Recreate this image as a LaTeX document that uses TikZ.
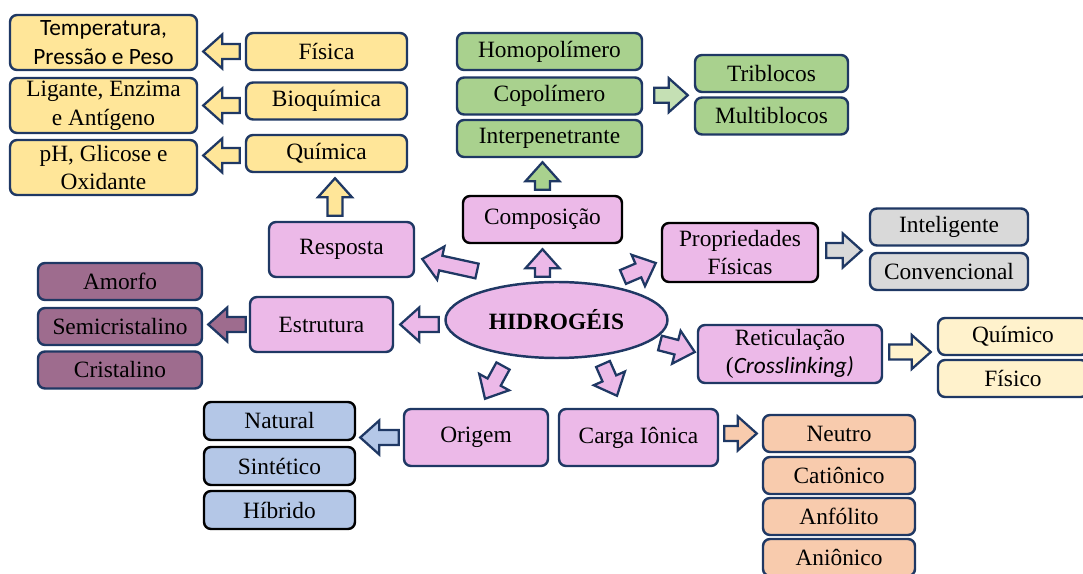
\documentclass[tikz,border=0pt]{standalone}
\usepackage{fontspec}
\setmainfont{Liberation Serif}
\newfontfamily\calibri{Carlito}
\usetikzlibrary{calc,shapes.geometric}
\definecolor{navy}{HTML}{1F3864}
\definecolor{gold}{HTML}{FFE699}
\definecolor{lilac}{HTML}{ECB9E8}
\definecolor{leaf}{HTML}{A9D18E}
\definecolor{leaflight}{HTML}{C5E0B4}
\definecolor{silver}{HTML}{D9D9D9}
\definecolor{cream}{HTML}{FFF2CC}
\definecolor{plum}{HTML}{9E6C8E}
\definecolor{sky}{HTML}{B4C7E7}
\definecolor{peach}{HTML}{F8CBAD}

% fat arrow from #2 (tail) to #3 (tip)
\newcommand{\bigarrow}[3][]{%
  \coordinate (ta) at #2;
  \coordinate (tb) at #3;
  \coordinate (tc) at ($(tb)!0.38cm!(ta)$);
  \filldraw[line width=1.3pt, draw=navy, #1] ($(ta)!0.15cm!90:(tb)$) -- ($(tc)!0.15cm!90:(tb)$) -- ($(tc)!0.34cm!90:(tb)$) -- (tb) -- ($(tc)!0.34cm!-90:(tb)$) -- ($(tc)!0.15cm!-90:(tb)$) -- ($(ta)!0.15cm!-90:(tb)$) -- cycle;
}

\begin{document}
\begin{tikzpicture}[x=0.02cm, y=-0.02cm,
    cbox/.style={draw=navy, line width=1.4pt, rounded corners=4pt, align=center, inner sep=0pt, font=\fontsize{13.3}{16.3}\selectfont},
    wh/.style 2 args={minimum width=#1*0.02cm, minimum height=#2*0.02cm}]
    \useasboundingbox (0,0) rectangle (1083,574);

    % resposta
    \node[cbox, fill=gold, wh={187}{55}, font=\calibri\fontsize{13.3}{16.3}\selectfont] (temp) at (103.5,42.5) {Temperatura,\\Pressão e Peso};
    \node[cbox, fill=gold, wh={187}{55}] (lig) at (103.5,105.5) {Ligante, Enzima\\e Antígeno};
    \node[cbox, fill=gold, wh={187}{55}] (ph) at (103.5,167.5) {pH, Glicose e\\Oxidante};
    \foreach \n/\t/\y in {fis/Física/51.5, bio/Bioquímica/101, qui/Química/153.5}{
        \node[cbox, fill=gold, wh={161}{37}] (\n) at (326.5,\y) {\t};
    }

    % composicao
    \foreach \n/\t/\y in {homo/Homopolímero/51.5, copo/Copolímero/96, inter/Interpenetrante/138.5}{
        \node[cbox, fill=leaf, wh={185}{37}] (\n) at (549.5,\y) {\t};
    }
    \node[cbox, fill=leaf, wh={153}{37}] (tri) at (771.5,73.5) {Triblocos};
    \node[cbox, fill=leaf, wh={153}{37}] (mul) at (771.5,116) {Multiblocos};

    % centro
    \node[cbox, fill=lilac, wh={145}{55}] (resp) at (341.5,249.5) {Resposta};
    \node[cbox, draw=black, fill=lilac, wh={159}{47}] (comp) at (542.5,219.5) {Composição};
    \node[cbox, fill=lilac, wh={143}{55}] (estr) at (321.5,324.5) {Estrutura};
    \node[ellipse, draw=navy, line width=1.4pt, fill=lilac, minimum width=222*0.02cm, minimum height=76*0.02cm, inner sep=0pt, font=\fontsize{13.3}{16}\selectfont\bfseries] (hid) at (556.5,320) {HIDROGÉIS};
    \node[cbox, draw=black, fill=lilac, wh={156}{59}] (prop) at (740,252.5) {Propriedades\\Físicas};
    \node[cbox, fill=lilac, wh={184}{58}] (ret) at (790,354) {Reticulação\\({\calibri\itshape Crosslinking)}};
    \node[cbox, fill=lilac, wh={144}{57}] (orig) at (476,437.5) {Origem};
    \node[cbox, fill=lilac, wh={159}{57}] (carga) at (638.5,437.5) {Carga Iônica};

    % classes
    \node[cbox, fill=silver, wh={158}{37}] (intel) at (949,227) {Inteligente};
    \node[cbox, fill=silver, wh={158}{37}] (conv) at (949,271.5) {Convencional};
    \node[cbox, fill=cream, wh={150}{37}] (quim) at (1013,336.5) {Químico};
    \node[cbox, fill=cream, wh={150}{37}] (fisi) at (1013,378.5) {Físico};
    \foreach \n/\t/\y in {amo/Amorfo/281.5, semi/Semicristalino/326.5, cri/Cristalino/370}{
        \node[cbox, fill=plum, wh={164}{37}] (\n) at (120,\y) {\t};
    }
    \foreach \n/\t/\y in {nat/Natural/421, sin/Sintético/466, hib/Híbrido/510}{
        \node[cbox, draw=black, fill=sky, wh={151}{38}] (\n) at (279.5,\y) {\t};
    }
    \foreach \n/\t/\y in {neu/Neutro/433.5, cat/Catiônico/475.5, anf/Anfólito/516.5, ani/Aniônico/557.5}{
        \node[cbox, fill=peach, wh={152}{37}] (\n) at (839,\y) {\t};
    }

    % setas
    \bigarrow[fill=gold]{($(fis.west)+(-5,0)$)}{($(temp.east |- fis.west)+(5,0)$)}
    \bigarrow[fill=gold]{($(bio.west |- lig.east)+(-5,0)$)}{($(lig.east)+(5,0)$)}
    \bigarrow[fill=gold]{($(qui.west)+(-5,2)$)}{($(ph.east |- qui.west)+(5,2)$)}
    \bigarrow[fill=gold]{($(resp.north)+(-6.5,-5)$)}{($(resp.north |- qui.south)+(-6.5,5)$)}
    \bigarrow[fill=leaf]{($(comp.north)+(0,-5)$)}{($(inter.south -| comp.north)+(0,4)$)}
    \bigarrow[fill=leaflight]{($(copo.east |- tri.south west)+(11,2)$)}{($(tri.south west)+(-6,2)$)}
    \bigarrow[fill=lilac]{($(hid.center)+(-79.5,-49)$)}{($(resp.east)+(7,9.5)$)}
    \bigarrow[fill=lilac]{($(comp.south |- hid.north)+(0,-4)$)}{($(comp.south)+(0,5)$)}
    \bigarrow[fill=lilac]{($(hid.center)+(66.5,-43)$)}{($(prop.west)+(-5,10.5)$)}
    \bigarrow[fill=lilac]{($(hid.west |- estr.east)+(-5.5,0)$)}{($(estr.east)+(6,0)$)}
    \bigarrow[fill=lilac]{($(hid.center)+(103.5,23)$)}{($(ret.west)+(-2,-2)$)}
    \bigarrow[fill=lilac]{($(hid.center)+(-53.5,46)$)}{($(orig.north)+(9,-9)$)}
    \bigarrow[fill=lilac]{($(hid.center)+(46.5,44)$)}{($(carga.north)+(-21.5,-12)$)}
    \bigarrow[fill=silver]{($(prop.east)+(7,-2)$)}{($(intel.west |- prop.east)+(-7,-2)$)}
    \bigarrow[fill=cream]{($(ret.east)+(6,-2)$)}{($(quim.west |- ret.east)+(-6,-2)$)}
    \bigarrow[fill=plum]{($(estr.west)+(-3,0)$)}{($(semi.east |- estr.west)+(5,0)$)}
    \bigarrow[fill=sky]{($(orig.west)+(-4,0)$)}{($(nat.east |- orig.west)+(4,0)$)}
    \bigarrow[fill=peach]{($(carga.east |- neu.west)+(5,0)$)}{($(neu.west)+(-5,0)$)}
\end{tikzpicture}
\end{document}
